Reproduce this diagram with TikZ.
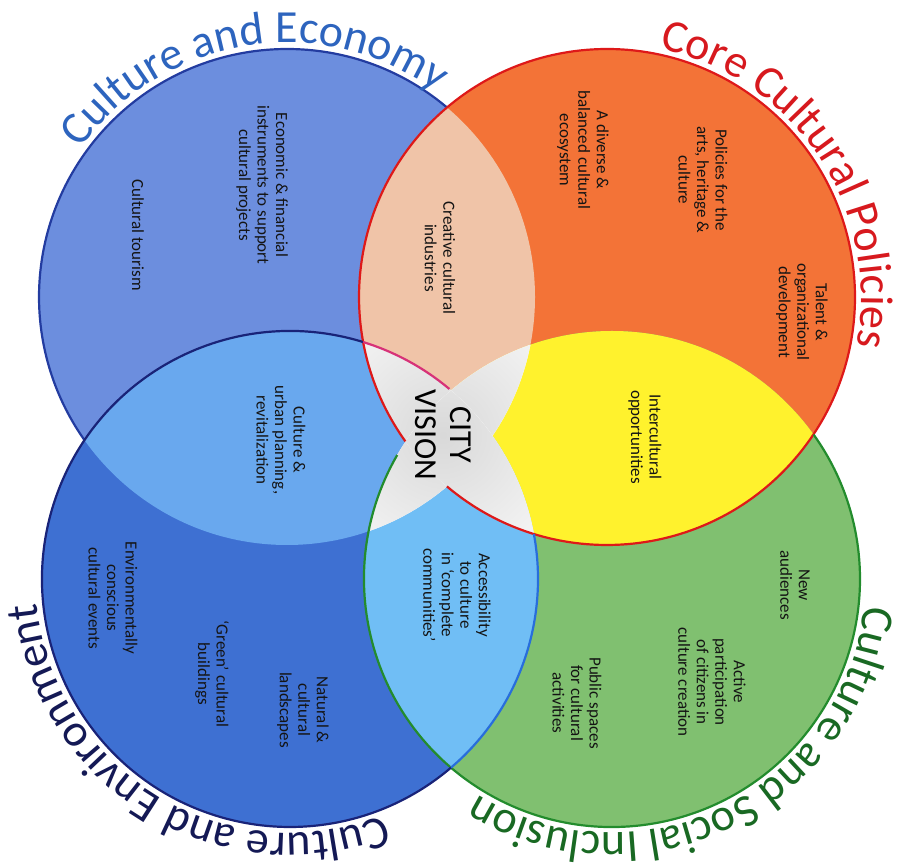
\documentclass[tikz,border=0pt]{standalone}
\usepackage{fontspec}
\setmainfont{Carlito}
\usetikzlibrary{decorations.text}
\definecolor{econfill}{RGB}{108,142,222}
\definecolor{corefill}{RGB}{243,115,55}
\definecolor{socialfill}{RGB}{128,192,112}
\definecolor{envirfill}{RGB}{62,112,210}
\definecolor{peach}{RGB}{240,196,168}
\definecolor{urbanblue}{RGB}{105,168,238}
\definecolor{interyellow}{RGB}{255,242,45}
\definecolor{skyblue}{RGB}{112,190,245}
\definecolor{econline}{RGB}{35,60,160}
\definecolor{coreline}{RGB}{222,25,25}
\definecolor{socialline}{RGB}{35,140,45}
\definecolor{envirline}{RGB}{25,35,120}
\definecolor{accessline}{RGB}{40,110,220}
\definecolor{pinkline}{RGB}{215,50,120}
\definecolor{econtext}{RGB}{45,100,190}
\definecolor{coretext}{RGB}{215,25,30}
\definecolor{socialtext}{RGB}{25,105,35}
\definecolor{envirtext}{RGB}{20,25,85}
\newcommand{\crad}{248}
\newcommand{\titlefont}{\fontsize{46}{50}\selectfont}

\begin{document}
\begin{tikzpicture}[x=1pt, y=1pt,
       idea/.style = {rotate=-90, align=center, text=black!92,
                      font=\fontsize{17}{18.5}\selectfont},
    outline/.style = {line width=2.2pt},
   arctitle/.style n args = {2}{decorate,
                      decoration={text along path, text align=center,
                                  text color=#1, text={|\titlefont|#2}}}
                        ]
\useasboundingbox (0,0) rectangle (904,867);
% centres
\coordinate (econ)   at (287,570);
\coordinate (core)   at (607,570);
\coordinate (social) at (612,288);
\coordinate (envir)  at (290,288);
% circles
\fill[econfill]   (econ)   circle[radius=\crad];
\fill[corefill]   (core)   circle[radius=\crad];
\fill[socialfill] (social) circle[radius=\crad];
\fill[envirfill]  (envir)  circle[radius=\crad];
% overlaps of two
\begin{scope}
  \clip (econ) circle[radius=\crad];
  \fill[peach] (core) circle[radius=\crad];
  \fill[urbanblue] (envir) circle[radius=\crad];
\end{scope}
\begin{scope}
  \clip (social) circle[radius=\crad];
  \fill[interyellow] (core) circle[radius=\crad];
  \fill[skyblue] (envir) circle[radius=\crad];
\end{scope}
% overlaps of three: the city vision
\foreach \a/\b/\c in {econ/core/envir, econ/core/social, econ/envir/social, core/envir/social}{
  \begin{scope}
    \clip (\a) circle[radius=\crad];
    \clip (\b) circle[radius=\crad];
    \clip (\c) circle[radius=\crad];
    \fill[white] (0,0) rectangle (904,867);
    \shade[inner color=black!15, outer color=white] (443,432) circle[radius=190];
  \end{scope}
}
% outlines
\draw[outline, econline] (econ) ++(49.8:\crad) arc[start angle=49.8, end angle=215.2, radius=\crad];
\draw[outline, coreline] (core) ++(229.8:\crad) arc[start angle=229.8, end angle=575.6, radius=\crad];
\draw[outline, socialline] (social) ++(150:\crad) arc[start angle=150, end angle=395.6, radius=\crad];
\draw[outline, envirline] (envir) ++(72.85:\crad) arc[start angle=72.85, end angle=310.5, radius=\crad];
\draw[outline, accessline] (envir) ++(-49.5:\crad) arc[start angle=-49.5, end angle=10.45, radius=\crad];
\draw[outline, pinkline] (envir) ++(50:\crad) arc[start angle=50, end angle=72.85, radius=\crad];
% titles round the circles
\path[arctitle={econtext}{Culture and Economy}] (econ) ++(160:254) arc[start angle=160, end angle=38, radius=254];
\path[arctitle={coretext}{Core Cultural Policies}] (core) ++(95:254) arc[start angle=95, end angle=-28, radius=254];
\path[arctitle={socialtext}{Culture and Social Inclusion}] (social) ++(10:254) arc[start angle=10, end angle=-138, radius=254];
\path[arctitle={envirtext}{Culture and Environment}] (envir) ++(-50:254) arc[start angle=-50, end angle=-193, radius=254];
% culture and economy
\node[idea] (tools)   at (262,682) {Economic \& financial\\instruments to support\\cultural projects};
\node[idea] (tourism) at (138,632) {Cultural tourism};
\node[idea] (creative) at (440,609) {Creative cultural\\industries};
% core cultural policies
\node[idea] (ecosystem) at (583,717) {A diverse \&\\balanced cultural\\ecosystem};
\node[idea] (arts)      at (703,687) {Policies for the\\arts, heritage \&\\culture};
\node[idea] (talent)    at (802,555) {Talent \&\\organizational\\development};
\node[idea] (intercult) at (645,430) {Intercultural\\opportunities};
% culture and environment
\node[idea] (urban)     at (281,427) {Culture \&\\urban planning,\\revitalization};
\node[idea] (events)    at (113,269) {Environmentally\\conscious\\cultural events};
\node[idea] (buildings) at (212,193) {`Green' cultural\\buildings};
\node[idea] (landscape) at (303,157) {Natural \&\\cultural\\landscapes};
% culture and social inclusion
\node[idea] (access)    at (457,272) {Accessibility\\to culture\\in `complete\\communities'};
\node[idea] (audience)  at (795,282) {New\\audiences};
\node[idea] (active)    at (712,185) {Active\\participation\\of citizens in\\culture creation};
\node[idea] (spaces)    at (577,164) {Public spaces\\for cultural\\activities};
% centre
\node[rotate=-90, align=center, font=\fontsize{32}{35}\selectfont] (vision) at (443,432) {CITY\\VISION};
\end{tikzpicture}
\end{document}
